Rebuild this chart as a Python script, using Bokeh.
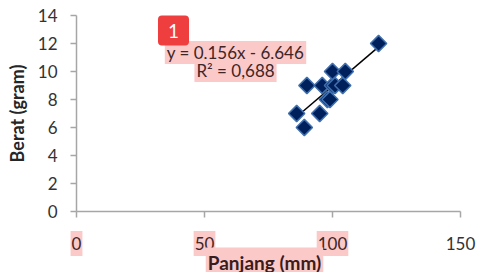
import numpy as np
from bokeh.plotting import figure
from bokeh.models import Label, Range1d, FixedTicker, CustomJSTickFormatter
from bokeh.embed import file_html
from bokeh.resources import INLINE

# ---- data ----
panjang = [86, 89, 90, 95, 96, 98, 99, 100, 100, 101, 104, 105, 118]
berat = [7, 6, 9, 7, 9, 8, 8, 9, 10, 9, 9, 10, 12]
slope = 0.156
intercept = -6.646
r2 = 0.688
x_ticks = [0, 50, 100, 150]
x_tick_labels = ["0", "50", "100", "150"]
x_tick_highlight = [True, True, True, False]
y_ticks = [0, 2, 4, 6, 8, 10, 12, 14]
x_title = "Panjang (mm)"
y_title = "Berat (gram)"
badge_text = "1"


def fmt(v):
    return f"{v:.3f}".replace(".", ",")


eq_text = f"y = {fmt(slope)}x - {fmt(abs(intercept))}"
r2_text = f"R² = {fmt(r2)}"

FONT = "Lato"
PINK = "#fcc9c9"
TXT = "#333333"
TXT_HI = "#3f2626"

W, H = 477, 272
# frame covers the whole canvas; axis 0..150 maps to px 76..460, 0..14 to px 211..15
XPX = 384 / 150.0
YPX = 196 / 14.0
x_range = Range1d(-76 / XPX, 150 + (W - 460) / XPX)
y_range = Range1d(-(H - 211) / YPX, 14 + 15 / YPX)

p = figure(width=W, height=H, output_backend="svg", toolbar_location=None,
           x_range=x_range, y_range=y_range,
           min_border_left=0, min_border_right=0, min_border_top=0, min_border_bottom=0)
p.outline_line_color = None
p.xgrid.visible = False
p.ygrid.visible = False

for ax in (p.xaxis[0], p.yaxis[0]):
    ax.fixed_location = 0
    ax.axis_line_color = "#a6a6a6"
    ax.axis_line_width = 1.5
    ax.major_tick_line_color = "#a6a6a6"
    ax.major_tick_line_width = 1.5
    ax.major_tick_out = 6
    ax.major_tick_in = 0
    ax.minor_tick_line_color = None
    ax.major_label_text_font = FONT
    ax.major_label_text_font_size = "17px"
    ax.major_label_text_color = TXT
    ax.axis_label_text_font = FONT
    ax.axis_label_text_font_size = "18px"
    ax.axis_label_text_font_style = "bold"
    ax.axis_label_text_color = "#262626"

p.yaxis.bounds = (0, 14)
p.yaxis.ticker = FixedTicker(ticks=y_ticks)
p.yaxis.major_label_standoff = 13
p.yaxis.axis_label = y_title
p.yaxis.axis_label_standoff = 7

p.xaxis.bounds = (0, 150)
p.xaxis.ticker = FixedTicker(ticks=x_ticks)
p.xaxis.formatter = CustomJSTickFormatter(code="return ''")

tx = np.array([min(panjang), max(panjang)], dtype=float)
p.line(tx, slope * tx + intercept, line_color="black", line_width=1.5)

p.scatter(panjang, berat, marker="square", angle=np.pi / 4, size=11.5,
          fill_color="#00205c", line_color="#3f6fae", line_width=1.5)

# x tick labels (highlighted ones carry a pink box)
for v, t, hi in zip(x_ticks, x_tick_labels, x_tick_highlight):
    lab = Label(x=v, y=29, y_units="screen", text=t, text_align="center",
                text_baseline="middle", text_font=FONT, text_font_size="17px",
                text_color=TXT_HI if hi else TXT)
    if hi:
        lab.background_fill_color = PINK
        lab.padding = dict(left=1, right=1, top=6, bottom=6)
    p.add_layout(lab)

# x axis title
p.add_layout(Label(x=264, y=9, x_units="screen", y_units="screen", text=x_title,
                   text_align="center", text_baseline="middle", text_font=FONT,
                   text_font_size="19px", text_font_style="bold", text_color="#3a1c1c",
                   background_fill_color=PINK,
                   padding=dict(left=2, right=2, top=3, bottom=6)))

# trendline equation
p.add_layout(Label(x=235, y=220, x_units="screen", y_units="screen", text=eq_text,
                   text_align="center", text_baseline="middle", text_font=FONT,
                   text_font_size="17px", text_color=TXT_HI,
                   background_fill_color=PINK,
                   padding=dict(left=2, right=2, top=1, bottom=1)))
p.add_layout(Label(x=235, y=202, x_units="screen", y_units="screen", text=r2_text,
                   text_align="center", text_baseline="middle", text_font=FONT,
                   text_font_size="17px", text_color=TXT_HI,
                   background_fill_color=PINK,
                   padding=dict(left=2, right=2, top=1, bottom=1)))

# badge
p.add_layout(Label(x=173, y=242, x_units="screen", y_units="screen", text=badge_text,
                   text_align="center", text_baseline="middle", text_font=FONT,
                   text_font_size="19px", text_color="white",
                   background_fill_color="#ef3e3e", border_radius=4,
                   padding=dict(left=10, right=10, top=8, bottom=8)))

open("out.html", "w").write(file_html(p, INLINE))
